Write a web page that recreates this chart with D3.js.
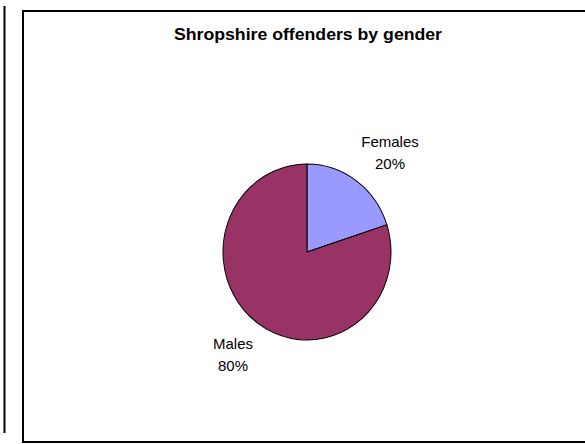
<!DOCTYPE html>
<html>
<head>
<meta charset="utf-8">
<script src="https://cdn.jsdelivr.net/npm/d3@7"></script>
<style>
  body { margin: 0; background: #fff; }
  svg { display: block; }
</style>
</head>
<body>
<script>
// chart data
const title = "Shropshire offenders by gender";
const categories = ["Females", "Males"];
const shares = [20, 80];
const colours = ["#9999FF", "#993366"];

const width = 585, height = 444;
const svg = d3.select("body").append("svg")
  .attr("width", width)
  .attr("height", height);

// edge of the neighbouring chart on the left
svg.append("line")
  .attr("x1", 4.5).attr("x2", 4.5)
  .attr("y1", 6).attr("y2", 433)
  .attr("stroke", "#000").attr("stroke-width", 2);

// chart area border (runs past the right edge)
svg.append("rect")
  .attr("x", 23).attr("y", 11)
  .attr("width", 600).attr("height", 431)
  .attr("fill", "#fff")
  .attr("stroke", "#000").attr("stroke-width", 2);

svg.append("text")
  .attr("x", 308).attr("y", 40)
  .attr("text-anchor", "middle")
  .attr("font-family", "Liberation Sans, Arial, sans-serif")
  .attr("font-weight", "bold")
  .attr("font-size", 16)
  .attr("textLength", 268)
  .attr("lengthAdjust", "spacingAndGlyphs")
  .text(title);

const cx = 307, cy = 252, r = 86;

const pie = d3.pie().sort(null).value(d => d)(shares);
const arc = d3.arc().innerRadius(0).outerRadius(r);

const g = svg.append("g")
  .attr("transform", `translate(${cx},${cy}) scale(${84 / 86},${88 / 86})`);

g.selectAll("path")
  .data(pie)
  .enter()
  .append("path")
  .attr("d", arc)
  .attr("fill", (d, i) => colours[i])
  .attr("stroke", "#000")
  .attr("stroke-width", 1);

// label positions
const labelPos = [[390, 147], [233, 349]];

const labels = svg.selectAll(".lbl")
  .data(pie)
  .enter()
  .append("text")
  .attr("class", "lbl")
  .attr("text-anchor", "middle")
  .attr("font-family", "Liberation Sans, Arial, sans-serif")
  .attr("font-size", 15)
  .attr("fill", "#000");

labels.append("tspan")
  .attr("x", (d, i) => labelPos[i][0])
  .attr("y", (d, i) => labelPos[i][1])
  .text((d, i) => categories[i]);

labels.append("tspan")
  .attr("x", (d, i) => labelPos[i][0])
  .attr("y", (d, i) => labelPos[i][1] + 22)
  .text(d => d.data + "%");
</script>
</body>
</html>
